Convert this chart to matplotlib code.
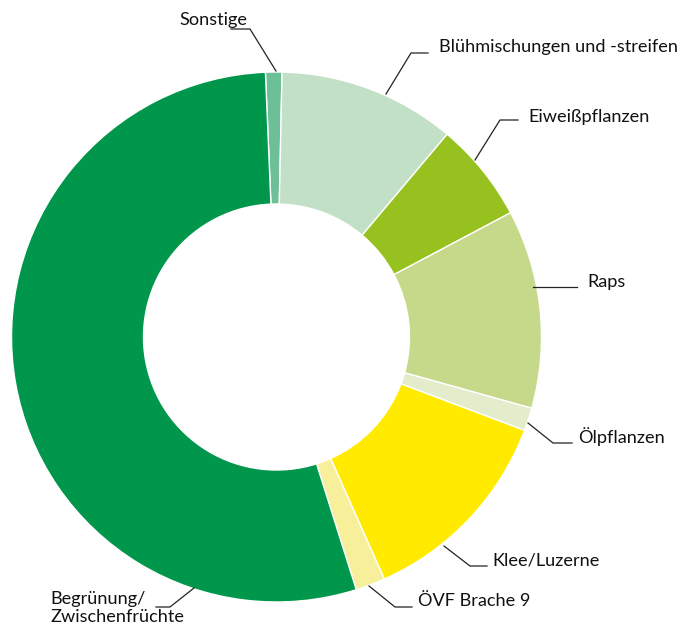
# Donut chart: Anteile der Flächen (ÖVF / Kulturen)
import matplotlib.pyplot as plt

plt.rcParams['font.family'] = ['Lato', 'DejaVu Sans']

# data (clockwise from top)
labels = ['Sonstige', 'Blühmischungen und -streifen', 'Eiweißpflanzen', 'Raps',
          'Ölpflanzen', 'Klee/Luzerne', 'ÖVF Brache 9', 'Begrünung/\nZwischenfrüchte']
values = [1.0, 10.8, 6.1, 12.1, 1.4, 12.6, 1.8, 54.2]
colors = ['#6dbf98', '#c2e0c5', '#97c11f', '#c6d98a',
          '#e3edcc', '#ffea00', '#f8ef9b', '#00964b']

W, H = 686, 627

fig = plt.figure(figsize=(W / 100, H / 100), dpi=100)
ax = fig.add_axes([0, 0, 1, 1])
ax.axis('off')

cx, cy = 276.5, H - 337
ax.pie(values, colors=colors, center=(cx, cy), radius=265,
       startangle=92.4, counterclock=False,
       wedgeprops=dict(width=132, edgecolor='white', linewidth=1))
ax.set_xlim(0, W)
ax.set_ylim(0, H)
ax.set_aspect('equal')

# leader lines and label positions (pixels, y from top)
leaders = [
    [(276, 71), (250, 29), (231, 29)],
    [(386, 94), (411, 53), (428, 53)],
    [(475, 160), (500, 120), (518, 120)],
    [(533, 287), (577, 287)],
    [(528, 423), (553, 443), (572, 443)],
    [(444, 546), (470, 566), (487, 566)],
    [(369, 586), (395, 607), (412, 607)],
    [(194, 588), (170, 607), (156, 607)],
]
text_pos = [(247, 20, 'right', 'center'), (439, 47, 'left', 'center'),
            (528, 117, 'left', 'center'), (587, 282, 'left', 'center'),
            (578, 437, 'left', 'center'), (492, 560, 'left', 'center'),
            (418, 601, 'left', 'center'), (50, 591, 'left', 'top')]

for lab, pts, (tx, ty, ha, va) in zip(labels, leaders, text_pos):
    xs = [q[0] for q in pts]
    ys = [H - q[1] for q in pts]
    ax.plot(xs, ys, color='#222222', linewidth=0.9)
    ax.text(tx, H - ty, lab, ha=ha, va=va, fontsize=13.1, color='#111111',
            linespacing=1.15)

plt.savefig('out.png', dpi=100)
